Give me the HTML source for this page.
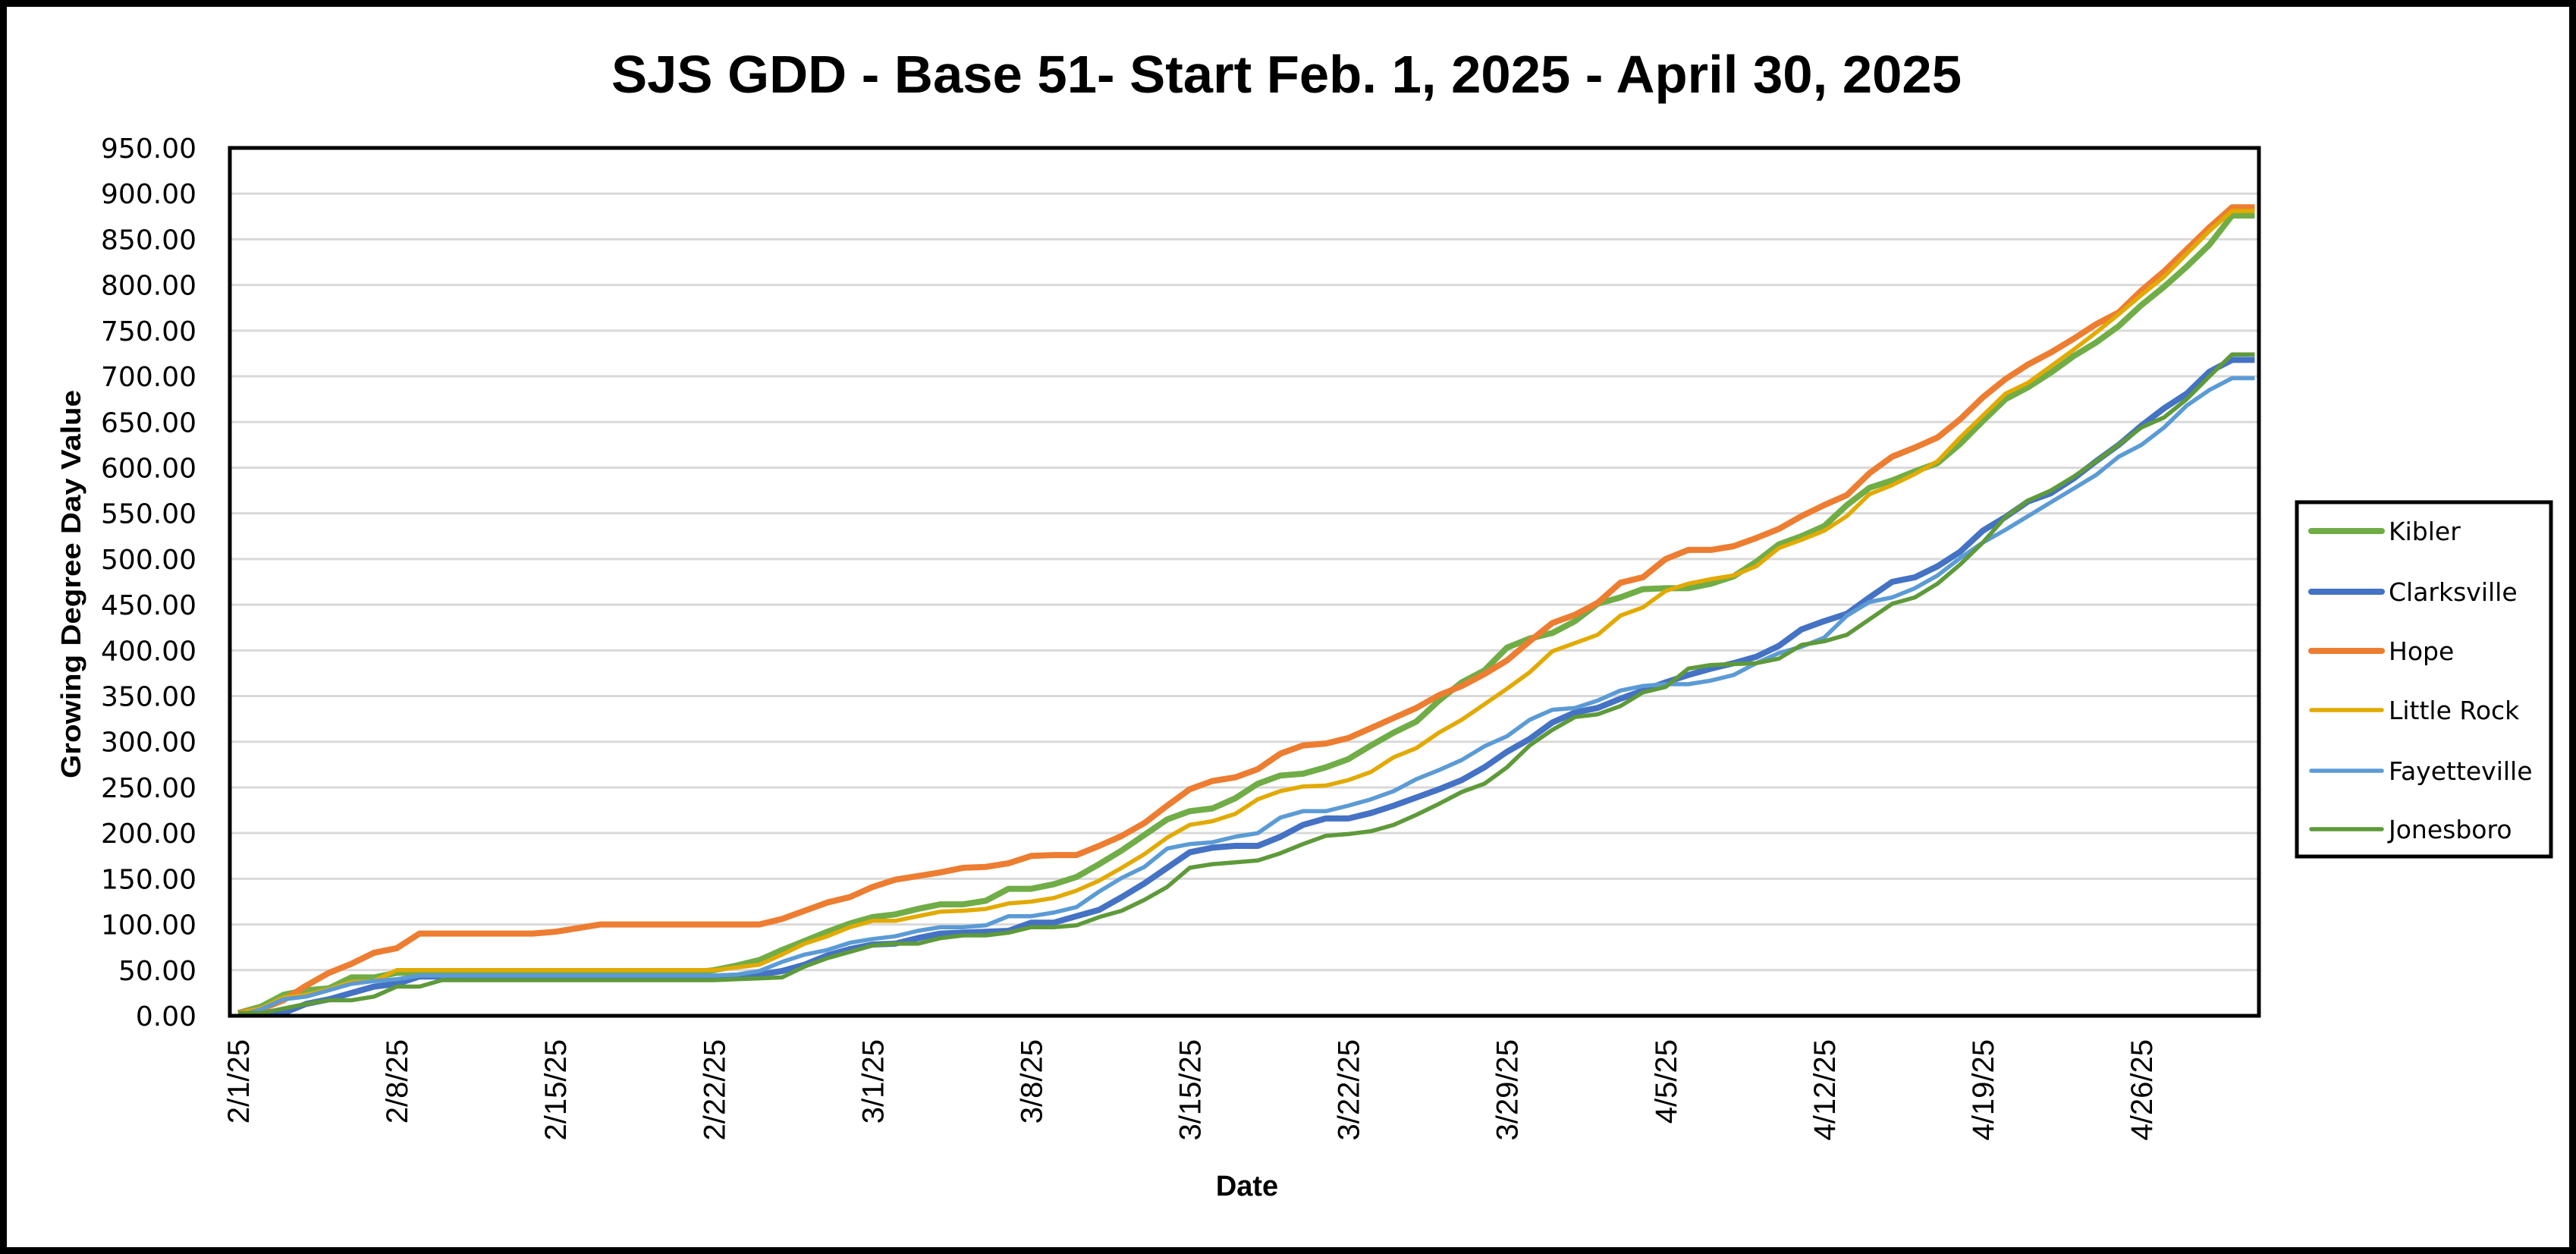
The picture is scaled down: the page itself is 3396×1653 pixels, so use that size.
<!DOCTYPE html>
<html><head><meta charset="utf-8"><style>
html,body{margin:0;padding:0;background:#fff}
svg{display:block}
</style></head><body>
<svg id="chart" width="3396" height="1653" viewBox="0 0 3396 1653" xmlns="http://www.w3.org/2000/svg">
<rect x="4.5" y="4.5" width="3387" height="1644" fill="#fff" stroke="#000" stroke-width="9"/>
<text x="1696" y="122" text-anchor="middle" font-family="Liberation Sans, sans-serif" font-weight="bold" font-size="70" textLength="1780" lengthAdjust="spacingAndGlyphs">SJS GDD - Base 51- Start Feb. 1, 2025 - April 30, 2025</text>
<text transform="translate(106,770) rotate(-90)" text-anchor="middle" font-family="Liberation Sans, sans-serif" font-weight="bold" font-size="36" textLength="512" lengthAdjust="spacingAndGlyphs">Growing Degree Day Value</text>
<text x="1644" y="1576" text-anchor="middle" font-family="Liberation Sans, sans-serif" font-weight="bold" font-size="38">Date</text>
<defs><clipPath id="plotclip"><rect x="305" y="195" width="2673" height="1146"/></clipPath></defs>
<g id="grid"></g>
<g id="yticks"></g>
<g id="xticks"></g>
<g id="series" clip-path="url(#plotclip)"></g>
<rect x="303" y="195" width="2675" height="1144" fill="none" stroke="#000" stroke-width="5"/>
<g id="legend">
<rect x="3028" y="662" width="335" height="467" fill="#fff" stroke="#000" stroke-width="5"/>
</g>
</svg>
<script>
const dates = ["2/1/25","2/8/25","2/15/25","2/22/25","3/1/25","3/8/25","3/15/25","3/22/25","3/29/25","4/5/25","4/12/25","4/19/25","4/26/25"];
const yTicks = [0,50,100,150,200,250,300,350,400,450,500,550,600,650,700,750,800,850,900,950];
const seriesNames = ["Kibler","Clarksville","Hope","Little Rock","Fayetteville","Jonesboro"];
const kibler = [3,10,23,28,30,42,42,47,47,47,47,47,47,47,47,47,47,47,47,47,47,50,55,61,
72,82,92,101,108,111,117,122,122,126,139,139,144,152,166,181,198,215,224,227,238,254,
263,265,272,281,296,310,322,345,365,378,403,413,419,432,451,458,467,468,468,
473,481,497,516,525,536,559,578,586,596,605,626,651,675,688,704,722,737,755,778,798,820,844,876,876];
const clarksville = [0,0,3,13,18,25,32,35,43,43,43,43,43,43,43,43,43,43,43,43,43,43,44,45,
49,56,66,73,78,79,85,90,91,92,93,102,102,109,116,130,145,162,179,184,186,186,
196,209,216,216,222,230,239,248,258,272,289,303,321,332,337,347,356,365,373,
380,386,393,405,423,432,440,458,475,480,492,508,531,546,563,572,588,607,625,646,665,681,705,718,718];
const hope = [3,7,17,33,47,57,69,74,90,90,90,90,90,90,92,96,100,100,100,100,100,100,100,100,
106,115,124,130,141,149,153,157,162,163,167,175,176,176,186,197,211,230,248,257,261,270,
287,296,298,304,315,326,337,351,361,374,389,410,430,439,452,474,480,500,510,
510,514,523,533,547,559,570,594,612,622,633,653,677,697,713,726,741,757,770,794,815,839,863,885,885];
const littleRock = [3,8,20,23,29,37,38,50,50,50,50,50,50,50,50,50,50,50,50,50,50,50,53,56,
67,79,87,97,104,104,109,114,115,117,123,125,129,137,148,162,177,195,209,213,221,237,
246,251,252,258,267,283,293,310,324,341,358,376,399,408,417,438,447,465,473,
478,482,492,512,521,531,547,571,581,593,607,633,657,681,693,711,729,748,768,789,809,834,859,881,881];
const fayetteville = [0,7,18,21,28,35,38,40,44,44,44,44,44,44,44,44,44,44,44,44,44,44,45,49,
59,67,72,80,84,87,93,97,97,99,109,109,113,119,136,151,163,183,188,190,196,200,
217,224,224,230,237,246,259,269,280,295,306,324,335,337,345,356,361,363,363,
367,373,386,397,404,414,438,453,458,468,482,501,518,532,547,562,577,592,612,625,644,668,685,698,698];
const jonesboro = [3,3,8,13,17,17,21,32,32,39,39,39,39,39,39,39,39,39,39,39,39,39,40,41,
42,54,63,70,77,79,79,85,88,88,91,97,97,99,108,115,127,141,162,166,168,170,
178,188,197,199,202,209,220,232,245,254,272,296,313,327,330,339,354,360,380,
384,385,386,391,406,410,417,434,451,458,473,494,518,546,564,575,590,607,625,644,655,675,700,724,724];

const NS = "http://www.w3.org/2000/svg";
const X0 = 314, DX = 29.87, Y0 = 1339, YTOP = 195, YMAX = 950;
function xScale(i){ return X0 + DX * i; }
function yScale(v){ return Y0 - v * (Y0 - YTOP) / YMAX; }
function mk(tag, attrs){ const e = document.createElementNS(NS, tag); for (const k in attrs) e.setAttribute(k, attrs[k]); return e; }

const grid = document.getElementById('grid');
const yt = document.getElementById('yticks');
yTicks.forEach(v => {
  const y = yScale(v);
  if (v > 0) {
    const l = mk('line', {x1:305, x2:2977, y1:y, y2:y, stroke:'#d9d9d9', 'stroke-width':3});
    
    
    grid.appendChild(l);
  }
  const t = mk('text', {x:259, y:y + 13, 'text-anchor':'end', 'font-family':'DejaVu Sans, sans-serif', 'font-size':36});
  
  
  t.textContent = v.toFixed(2);
  yt.appendChild(t);
});

const xt = document.getElementById('xticks');
dates.forEach((d, k) => {
  const x = xScale(k * 7);
  const t = mk('text', {transform:'translate(' + (x + 14) + ',1370) rotate(-90)', 'text-anchor':'end', 'font-family':'Liberation Sans, sans-serif', 'font-size':40});
  
  
  t.textContent = d;
  xt.appendChild(t);
});

const seriesData = [kibler, clarksville, hope, littleRock, fayetteville, jonesboro];
const colors = ['#70AD47','#4472C4','#ED7D31','#E2AA00','#5B9BD5','#5E9A3A'];
const widths = [8,8,8,5.5,5.5,5.5];
const sg = document.getElementById('series');
seriesData.forEach((arr, s) => {
  const pts = arr.map((v, i) => xScale(i).toFixed(1) + ',' + yScale(v).toFixed(1)).join(' ');
  const p = mk('polyline', {points:pts, fill:'none', stroke:colors[s], 'stroke-width':widths[s], 'stroke-linejoin':'round'});
  
  
  sg.appendChild(p);
});

const lg = document.getElementById('legend');
const legendY = [700,780,858,936,1016,1093];
seriesNames.forEach((n, s) => {
  const l = mk('line', {x1:3047, x2:3140, y1:legendY[s], y2:legendY[s], stroke:colors[s], 'stroke-width':widths[s], 'stroke-linecap':'round'});
  
  
  lg.appendChild(l);
  const t = mk('text', {x:3149, y:legendY[s] + 12, 'font-family':'DejaVu Sans, sans-serif', 'font-size':33});
  
  
  t.textContent = n;
  lg.appendChild(t);
});
</script>
</body></html>
